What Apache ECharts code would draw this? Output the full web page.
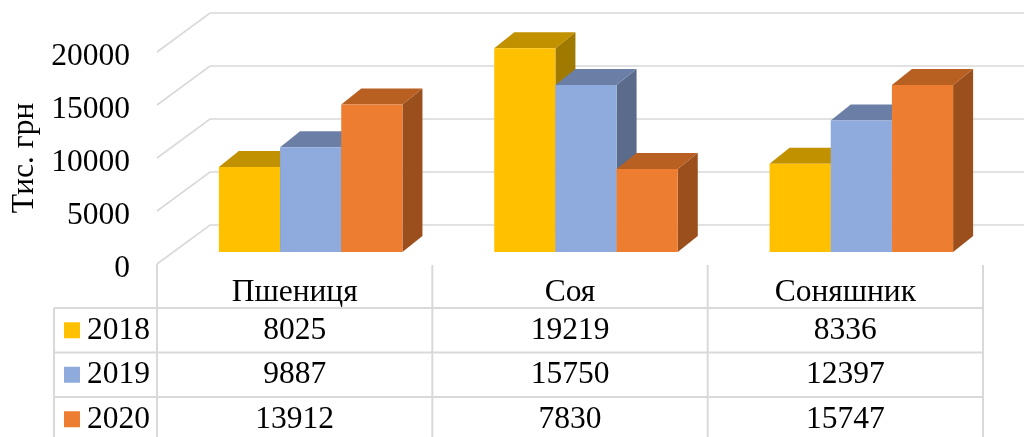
<!DOCTYPE html>
<html>
<head>
<meta charset="utf-8">
<script src="https://cdn.jsdelivr.net/npm/echarts@6/dist/echarts.min.js"></script>
<style>
  html, body { margin: 0; padding: 0; background: #fff; }
  #chart { width: 1024px; height: 437px; }
</style>
</head>
<body>
<div id="chart"></div>
<script>
// Crop categories and yearly values (тис. грн)
const categories = ['Пшениця', 'Соя', 'Соняшник'];
const years = ['2018', '2019', '2020'];
const values2018 = [8025, 19219, 8336];
const values2019 = [9887, 15750, 12397];
const values2020 = [13912, 7830, 15747];
const yTicks = [0, 5000, 10000, 15000, 20000];

const seriesValues = [values2018, values2019, values2020];

// Face colours per series: front, top, side
const palette = [
  { front: '#FFC000', top: '#C29100', side: '#A07900' },
  { front: '#8FAADC', top: '#6B7FA6', side: '#5B6B8C' },
  { front: '#ED7D31', top: '#B85F22', side: '#9A4F1D' }
];

const FONT = "'Liberation Serif', 'Times New Roman', serif";
const FS = 31.5;
const GRID_COLOR = '#D9D9D9';

// oblique projection of the floor depth
const WALL_DX = 53, WALL_DY = -39;   // full depth of the plot box
const FRONT_DX = 16, FRONT_DY = -12; // where the bar fronts sit
const BAR_DX = 20, BAR_DY = -16;     // bar depth

// table layout below the plot
const ROW_H = 44.5;
const HEADER_H = 44;
const LEGEND_LEFT = 54;

const chart = echarts.init(document.getElementById('chart'), null, { renderer: 'canvas' });

// gridline on the side and back walls, with its value label at the front end
function wallItem(params, api) {
  const cs = params.coordSys;
  const v = api.value(1);
  const y = api.coord([0, v])[1];
  return {
    type: 'group',
    children: [
      {
        type: 'polyline',
        shape: { points: [[cs.x, y], [cs.x + WALL_DX, y + WALL_DY], [cs.x + cs.width + WALL_DX, y + WALL_DY]] },
        style: { stroke: GRID_COLOR, lineWidth: 1.6, fill: null }
      },
      {
        type: 'text',
        style: { text: String(v), x: cs.x - 27, y: y + 5, fill: '#000', fontSize: FS, fontFamily: FONT, align: 'right', verticalAlign: 'middle' }
      }
    ]
  };
}

function barRenderer(s) {
  return function (params, api) {
    const cs = params.coordSys;
    const i = api.value(0);
    const v = api.value(1);
    const band = cs.width / categories.length;
    const base = api.coord([i, 0]);
    const top = api.coord([i, v]);
    const barW = band / 4.5;
    const left = base[0] - band / 2 + (band - 3 * barW) / 2 + s * barW + FRONT_DX;
    const yb = base[1] + FRONT_DY;
    const yt = top[1] + FRONT_DY;
    const c = palette[s];
    return {
      type: 'group',
      children: [
        {
          type: 'polygon',
          shape: { points: [[left + barW, yt], [left + barW + BAR_DX, yt + BAR_DY], [left + barW + BAR_DX, yb + BAR_DY], [left + barW, yb]] },
          style: { fill: c.side }
        },
        {
          type: 'polygon',
          shape: { points: [[left, yt], [left + barW, yt], [left + barW + BAR_DX, yt + BAR_DY], [left + BAR_DX, yt + BAR_DY]] },
          style: { fill: c.top }
        },
        {
          type: 'rect',
          shape: { x: left, y: yt, width: barW, height: yb - yt },
          style: { fill: c.front }
        }
      ]
    };
  };
}

function tableLines(params, api) {
  const cs = params.coordSys;
  const y0 = cs.y + cs.height;
  const bottom = 437;
  const right = cs.x + cs.width;
  const band = cs.width / categories.length;
  const children = [];
  const line = (x1, y1, x2, y2) => children.push({
    type: 'line', shape: { x1, y1, x2, y2 }, style: { stroke: GRID_COLOR, lineWidth: 2 }
  });
  line(cs.x, y0, cs.x, bottom);
  for (let k = 1; k <= categories.length; k++) {
    line(cs.x + band * k, y0 + 1, cs.x + band * k, bottom);
  }
  line(LEGEND_LEFT, y0 + HEADER_H, LEGEND_LEFT, bottom);
  for (let r = 0; r < years.length; r++) {
    const y = y0 + HEADER_H + r * ROW_H;
    line(LEGEND_LEFT, y, right, y);
  }
  return { type: 'group', children };
}

function legendCell(params, api) {
  const cs = params.coordSys;
  const r = params.dataIndex;
  const yc = cs.y + cs.height + HEADER_H + r * ROW_H + ROW_H / 2;
  return {
    type: 'group',
    children: [
      { type: 'rect', shape: { x: LEGEND_LEFT + 10, y: yc - 8, width: 16, height: 16 }, style: { fill: palette[r].front } },
      { type: 'text', style: { text: years[r], x: LEGEND_LEFT + 33, y: yc, fill: '#000', fontSize: FS, fontFamily: FONT, align: 'left', verticalAlign: 'middle' } }
    ]
  };
}

function rowRenderer(r) {
  return function (params, api) {
    const cs = params.coordSys;
    const i = api.value(0);
    const x = api.coord([i, 0])[0];
    const yc = cs.y + cs.height + HEADER_H + r * ROW_H + ROW_H / 2;
    return {
      type: 'text',
      style: { text: String(api.value(1)), x, y: yc, fill: '#000', fontSize: FS, fontFamily: FONT, align: 'center', verticalAlign: 'middle' }
    };
  };
}

const series = [
  {
    type: 'custom', name: 'wall', clip: false, silent: true, z: 1,
    renderItem: wallItem,
    encode: { x: 0, y: 1 },
    data: yTicks.map(t => [0, t])
  },
  {
    type: 'custom', name: 'table', clip: false, silent: true, z: 1,
    renderItem: tableLines,
    data: [[0, 0]]
  },
  {
    type: 'custom', name: 'legendCells', clip: false, silent: true, z: 3,
    renderItem: legendCell,
    data: years.map(() => [0, 0])
  }
];

years.forEach((yr, s) => {
  series.push({
    type: 'custom', name: yr, clip: false, z: 2,
    renderItem: barRenderer(s),
    encode: { x: 0, y: 1 },
    data: seriesValues[s].map((v, i) => [i, v])
  });
});
years.forEach((yr, r) => {
  series.push({
    type: 'custom', name: 'row' + yr, clip: false, silent: true, z: 3,
    renderItem: rowRenderer(r),
    encode: { x: 0, y: 1 },
    data: seriesValues[r].map((v, i) => [i, v])
  });
});

chart.setOption({
  backgroundColor: '#ffffff',
  animation: false,
  textStyle: { fontFamily: FONT },
  grid: { left: 157, right: 41, top: 52, bottom: 173, containLabel: false, outerBoundsMode: 'none' },
  xAxis: {
    type: 'category',
    data: categories,
    boundaryGap: true,
    axisLine: { show: false },
    axisTick: { show: false },
    splitLine: { show: false },
    axisLabel: { color: '#000', fontSize: FS, fontFamily: FONT, margin: 29, verticalAlign: 'middle' }
  },
  yAxis: {
    type: 'value',
    min: 0, max: 20000, interval: 5000,
    axisLine: { show: false },
    axisTick: { show: false },
    splitLine: { show: false },
    axisLabel: { show: false },
    name: 'Тис. грн',
    nameLocation: 'middle',
    nameRotate: 90,
    nameGap: 116,
    nameTextStyle: { color: '#000', fontSize: FS, fontFamily: FONT }
  },
  series
});
</script>
</body>
</html>
